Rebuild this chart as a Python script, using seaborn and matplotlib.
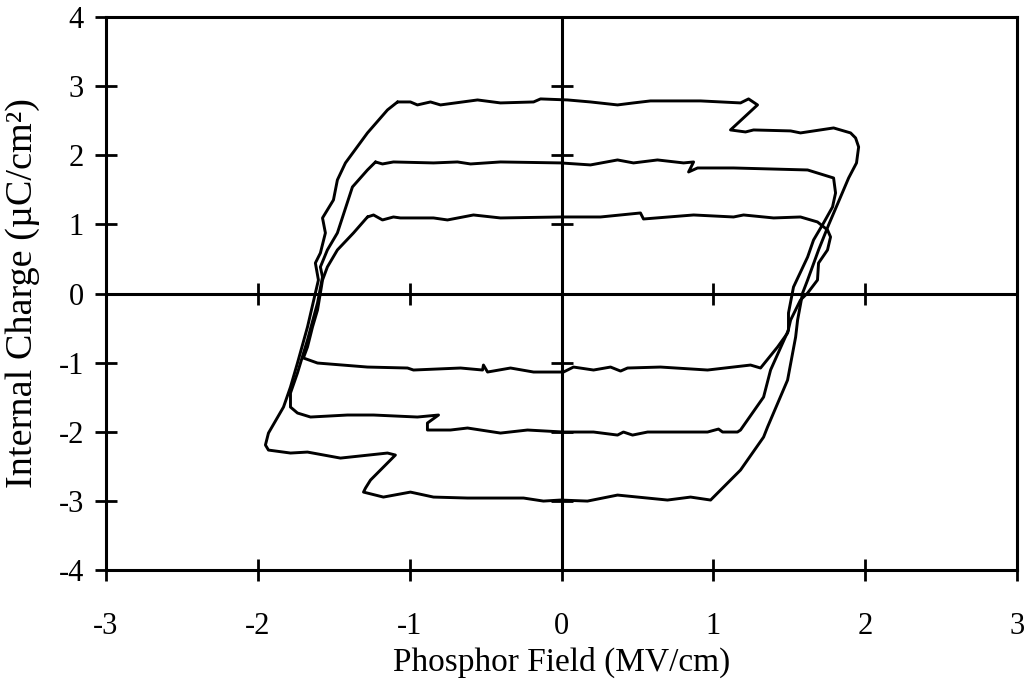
import numpy as np
import pandas as pd
import matplotlib
matplotlib.use("Agg")
import matplotlib.pyplot as plt
import seaborn as sns

# ---- data ----
outer_x = [-1.080, -0.995, -0.949, -0.863, -0.797, -0.553, -0.402, -0.184, -0.138, 0.040,
           0.191, 0.369, 0.474, 0.586, 0.916, 1.179, 1.232, 1.291, 1.113, 1.212,
           1.265, 1.509, 1.574, 1.792, 1.904, 1.937, 1.957, 1.943, 1.891, 1.838,
           1.759, 1.693, 1.621, 1.588, 1.555, 1.542, 1.489, 1.357, 1.331, 1.179,
           0.982, 0.850, 0.698, 0.369, 0.171, -0.007, -0.119, -0.250, -0.619, -0.843,
           -0.995, -1.173, -1.304, -1.291, -1.258, -1.094, -1.146, -1.456, -1.673, -1.785,
           -1.930, -1.950, -1.930, -1.831, -1.785, -1.739, -1.673, -1.621, -1.601, -1.621,
           -1.588, -1.555, -1.574, -1.502, -1.476, -1.423, -1.278, -1.146, -1.080]
outer_y = [2.771, 2.771, 2.728, 2.771, 2.728, 2.800, 2.757, 2.771, 2.815, 2.800,
           2.771, 2.728, 2.757, 2.786, 2.786, 2.757, 2.815, 2.728, 2.366, 2.337,
           2.366, 2.352, 2.323, 2.395, 2.323, 2.250, 2.120, 1.889, 1.671, 1.397,
           0.991, 0.630, 0.195, 0.007, -0.384, -0.630, -1.252, -1.932, -2.077, -2.554,
           -2.988, -2.945, -2.988, -2.916, -3.003, -2.988, -3.003, -2.959, -2.959, -2.945,
           -2.873, -2.945, -2.873, -2.815, -2.699, -2.337, -2.308, -2.381, -2.294, -2.308,
           -2.265, -2.192, -2.019, -1.643, -1.353, -1.006, -0.485, 0.007, 0.195, 0.441,
           0.586, 0.876, 1.093, 1.353, 1.643, 1.889, 2.323, 2.656, 2.771]

middle_x = [-1.225, -1.179, -1.107, -0.843, -0.685, -0.599, -0.402, -0.007, 0.191, 0.369,
            0.474, 0.632, 0.804, 0.870, 0.837, 0.896, 1.133, 1.621, 1.792, 1.805,
            1.785, 1.726, 1.660, 1.621, 1.528, 1.495, 1.495, 1.377, 1.331, 1.179,
            1.159, 1.061, 1.034, 0.962, 0.738, 0.567, 0.468, 0.408, 0.369, 0.211,
            0.013, -0.224, -0.402, -0.619, -0.731, -0.883, -0.883, -0.810, -0.949, -1.238,
            -1.410, -1.653, -1.739, -1.785, -1.785, -1.739, -1.673, -1.607, -1.574, -1.588,
            -1.542, -1.476, -1.377, -1.278, -1.225]
middle_y = [1.903, 1.874, 1.903, 1.889, 1.903, 1.874, 1.903, 1.889, 1.860, 1.932,
            1.889, 1.932, 1.889, 1.903, 1.758, 1.816, 1.816, 1.787, 1.671, 1.454,
            1.252, 1.020, 0.774, 0.528, 0.094, -0.282, -0.528, -1.107, -1.498, -1.975,
            -2.004, -2.004, -1.961, -2.004, -2.004, -2.004, -2.048, -2.004, -2.048, -2.004,
            -2.004, -1.975, -2.019, -1.946, -1.975, -1.975, -1.874, -1.758, -1.787, -1.758,
            -1.758, -1.787, -1.729, -1.643, -1.440, -1.150, -0.673, -0.137, 0.239, 0.384,
            0.630, 0.876, 1.541, 1.787, 1.903]

inner_x = [-1.278, -1.238, -1.179, -1.107, -1.061, -0.843, -0.751, -0.580, -0.402, -0.007,
           0.257, 0.520, 0.540, 0.870, 1.133, 1.199, 1.397, 1.574, 1.686, 1.752,
           1.772, 1.752, 1.693, 1.686, 1.621, 1.574, 1.509, 1.489, 1.423, 1.311,
           1.245, 0.962, 0.652, 0.435, 0.389, 0.323, 0.211, 0.079, 0.013, -0.184,
           -0.336, -0.487, -0.514, -0.520, -0.665, -0.975, -1.014, -1.278, -1.607, -1.700,
           -1.673, -1.640, -1.607, -1.588, -1.574, -1.542, -1.476, -1.370, -1.278]
inner_y = [1.107, 1.136, 1.064, 1.107, 1.093, 1.093, 1.064, 1.136, 1.093, 1.107,
           1.107, 1.165, 1.078, 1.136, 1.107, 1.136, 1.093, 1.107, 1.035, 0.919,
           0.818, 0.630, 0.441, 0.195, 0.007, -0.094, -0.384, -0.572, -0.774, -1.078,
           -1.035, -1.107, -1.064, -1.078, -1.122, -1.064, -1.107, -1.064, -1.136, -1.136,
           -1.078, -1.136, -1.035, -1.107, -1.078, -1.107, -1.078, -1.064, -1.006, -0.933,
           -0.774, -0.485, -0.239, 0.007, 0.195, 0.384, 0.630, 0.876, 1.107]

x_ticks = [-3, -2, -1, 0, 1, 2, 3]
y_ticks = [-4, -3, -2, -1, 0, 1, 2, 3, 4]
x_label = "Phosphor Field (MV/cm)"
y_label = "Internal Charge (µC/cm²)"

frames = []
for name, xs, ys in [("outer", outer_x, outer_y), ("middle", middle_x, middle_y),
                     ("inner", inner_x, inner_y)]:
    frames.append(pd.DataFrame({"field": xs, "charge": ys, "loop": name,
                                "order": np.arange(len(xs))}))
df = pd.concat(frames, ignore_index=True)

sns.set_theme(style="white")
plt.rcParams["font.family"] = ["Liberation Serif", "DejaVu Serif"]

fig = plt.figure(figsize=(10.24, 6.82), dpi=100)
ax = fig.add_axes([106 / 1024, 1 - 570 / 682, (1017 - 106) / 1024, (570 - 17) / 682])

sns.lineplot(data=df, x="field", y="charge", units="loop", estimator=None,
             sort=False, color="black", lw=2.1, ax=ax, legend=False)

ax.set_xlim(-3, 3)
ax.set_ylim(-4, 4)
ax.set_xticks(x_ticks)
ax.set_yticks(y_ticks)
ax.set_xticklabels([str(t) for t in x_ticks])
ax.set_yticklabels([str(t) for t in y_ticks])

for s in ax.spines.values():
    s.set_color("black")
    s.set_linewidth(2.2)
    s.set_visible(True)

ax.tick_params(axis="x", direction="inout", length=16, width=2.0, pad=22,
               labelsize=22, colors="black", bottom=True, top=False)
ax.tick_params(axis="y", direction="inout", length=16, width=2.0, pad=8,
               labelsize=22, colors="black", left=True, right=False)

# centre axes with crossing ticks
ax.axhline(0, color="black", lw=2.2, zorder=1)
ax.axvline(0, color="black", lw=2.2, zorder=1)
cx = [t for t in x_ticks if t not in (-3, 0, 3)]
cy = [t for t in y_ticks if t not in (-4, 0, 4)]
ax.plot(cx, [0] * len(cx), ls="none", marker="|", ms=16, mew=2.0, color="black")
ax.plot([0] * len(cy), cy, ls="none", marker="_", ms=16, mew=2.0, color="black")

ax.set_xlabel(x_label, fontsize=24, color="black")
ax.set_ylabel(y_label, fontsize=27.5, color="black")
ax.xaxis.set_label_coords(0.5, -0.138)
ax.xaxis.label.set_va("top")
ax.yaxis.set_label_coords(-0.091, 0.5)
ax.yaxis.label.set_va("center")

fig.savefig("out.png", dpi=100)
